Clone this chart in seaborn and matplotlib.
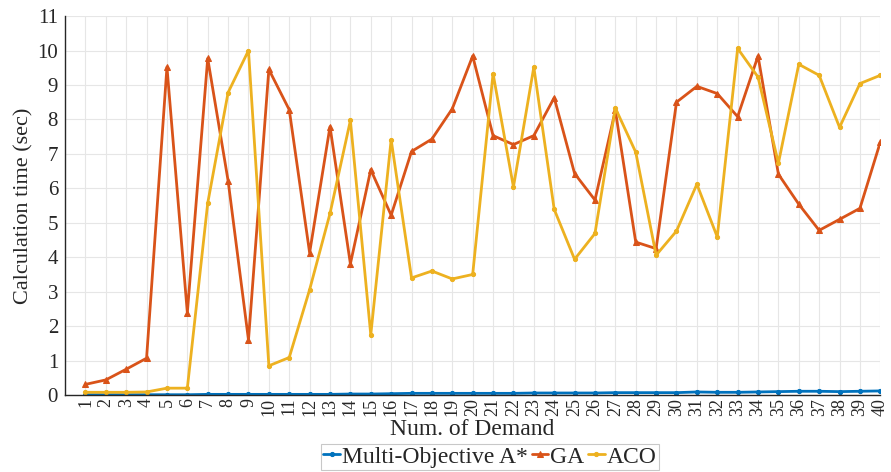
import numpy as np
import pandas as pd
import seaborn as sns
import matplotlib
matplotlib.use("Agg")
import matplotlib.pyplot as plt

# values
demand = list(range(1, 41))

astar = [0.01, 0.01, 0.01, 0.01, 0.01, 0.01, 0.02, 0.02, 0.02, 0.02,
         0.02, 0.02, 0.02, 0.03, 0.03, 0.04, 0.05, 0.05, 0.05, 0.05,
         0.05, 0.05, 0.06, 0.06, 0.06, 0.06, 0.07, 0.07, 0.07, 0.07,
         0.09, 0.08, 0.08, 0.09, 0.10, 0.11, 0.11, 0.10, 0.11, 0.12]

ga = [0.31, 0.44, 0.75, 1.07, 9.52, 2.39, 9.77, 6.22, 1.6, 9.45,
      8.28, 4.13, 7.79, 3.81, 6.54, 5.22, 7.07, 7.43, 8.31, 9.84,
      7.53, 7.27, 7.53, 8.63, 6.43, 5.66, 8.26, 4.44, 4.25, 8.5,
      8.96, 8.75, 8.08, 9.84, 6.41, 5.54, 4.78, 5.1, 5.42, 7.34]

aco = [0.08, 0.08, 0.08, 0.09, 0.2, 0.2, 5.57, 8.78, 10.0, 0.85,
       1.09, 3.06, 5.27, 7.97, 1.75, 7.41, 3.4, 3.6, 3.37, 3.5,
       9.33, 6.04, 9.52, 5.39, 3.94, 4.69, 8.33, 7.05, 4.06, 4.76,
       6.12, 4.59, 10.06, 9.23, 6.73, 9.6, 9.28, 7.77, 9.04, 9.28]

series_names = ["Multi-Objective A*", "GA", "ACO"]

df = pd.DataFrame({"Demand": demand, "Multi-Objective A*": astar, "GA": ga, "ACO": aco})

sns.set_style("whitegrid")
plt.rcParams['font.family'] = ['Liberation Serif', 'DejaVu Serif']

fig, ax = plt.subplots(figsize=(8.91, 4.72), dpi=100)
fig.subplots_adjust(left=0.073, right=0.988, top=0.966, bottom=0.163)

colors = ["#0072BD", "#D95319", "#EDB120"]
markers = ["o", "^", "o"]
msizes = [3, 4, 3]

for name, c, m, ms in zip(series_names, colors, markers, msizes):
    sns.lineplot(data=df, x="Demand", y=name, ax=ax, color=c, marker=m,
                 markersize=ms, markeredgecolor=c, linewidth=2, label=name)

ax.set_xlim(0, 40)
ax.set_ylim(0, 11)
ax.set_xticks(demand)
ax.set_xticklabels([str(d) for d in demand], rotation=90, fontsize=13)
ax.set_yticks(range(0, 12))
ax.tick_params(axis='y', labelsize=15, direction='in', length=4, pad=5)
ax.tick_params(axis='x', direction='in', length=4, pad=2)
ax.grid(True, color="#e6e6e6", linewidth=0.8)

for s in ["top", "right"]:
    ax.spines[s].set_visible(False)
for s in ["left", "bottom"]:
    ax.spines[s].set_color("#262626")
    ax.spines[s].set_linewidth(1.0)

ax.set_xlabel("Num. of Demand", fontsize=17, labelpad=2)
ax.set_ylabel("Calculation time (sec)", fontsize=16, labelpad=3)

ax.get_legend().remove()
handles, labels = ax.get_legend_handles_labels()
leg = fig.legend(handles, labels, loc="lower center", bbox_to_anchor=(0.55, 0.004),
                 ncol=3, fontsize=17, frameon=True, fancybox=False,
                 handlelength=0.7, handletextpad=0.1, columnspacing=0.15,
                 borderpad=0.1, borderaxespad=0.0)
leg.get_frame().set_edgecolor("#bbbbbb")
leg.get_frame().set_linewidth(0.8)

fig.savefig("out.png", dpi=100)
